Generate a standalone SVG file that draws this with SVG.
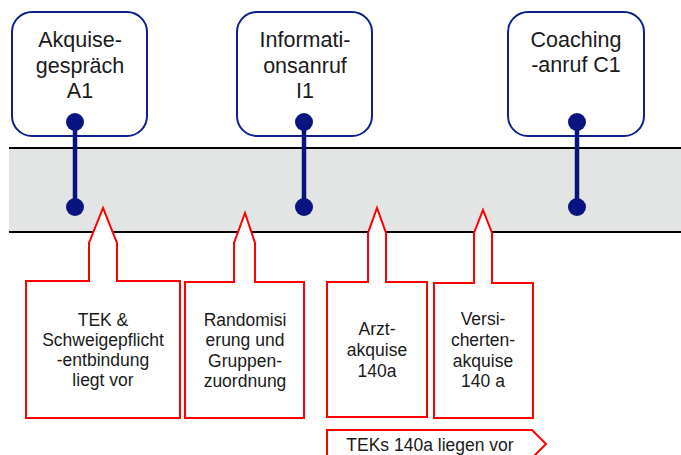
<svg xmlns="http://www.w3.org/2000/svg" width="681" height="455" viewBox="0 0 681 455">
  <style>
    .node { fill: #ffffff; stroke: #0d1f8c; stroke-width: 2; }
    .t { font-family: "Liberation Sans", Arial, sans-serif; fill: #1a1a1a; text-anchor: middle; }
    .big { font-size: 21.5px; }
    .small { font-size: 17.5px; }
    .call { fill: #ffffff; stroke: #ff0000; stroke-width: 2; stroke-linejoin: miter; }
    .stem { stroke: #0a1480; stroke-width: 4.5; }
    .dot { fill: #0a1480; }
  </style>

  <!-- timeline band -->
  <g id="band">
    <rect x="9" y="148" width="672" height="84" fill="#e3e4e4"/>
    <line x1="9" y1="148" x2="681" y2="148" stroke="#000" stroke-width="2"/>
    <line x1="9" y1="232" x2="681" y2="232" stroke="#000" stroke-width="2"/>
  </g>

  <!-- events -->
  <g id="node-a1">
    <rect class="node" x="12" y="12" width="135" height="124" rx="20"/>
    <text class="t big" x="80" y="47">Akquise-</text>
    <text class="t big" x="80" y="73">gespräch</text>
    <text class="t big" x="80" y="98">A1</text>
  </g>
  <g id="node-i1">
    <rect class="node" x="237" y="12" width="135" height="124" rx="20"/>
    <text class="t big" x="305" y="47">Informati-</text>
    <text class="t big" x="305" y="73">onsanruf</text>
    <text class="t big" x="305" y="98">I1</text>
  </g>
  <g id="node-c1">
    <rect class="node" x="508" y="12" width="136" height="124" rx="20"/>
    <text class="t big" x="576" y="47">Coaching</text>
    <text class="t big" x="576" y="72">-anruf C1</text>
  </g>

  <!-- connectors from events to the timeline -->
  <g id="connectors">
    <line class="stem" x1="75" y1="122" x2="75" y2="207"/>
    <circle class="dot" cx="75" cy="122" r="9"/>
    <circle class="dot" cx="75" cy="207" r="9"/>
    <line class="stem" x1="304" y1="122" x2="304" y2="207"/>
    <circle class="dot" cx="304" cy="122" r="9"/>
    <circle class="dot" cx="304" cy="207" r="9"/>
    <line class="stem" x1="577" y1="122" x2="577" y2="207"/>
    <circle class="dot" cx="577" cy="122" r="9"/>
    <circle class="dot" cx="577" cy="207" r="9"/>
  </g>

  <!-- milestone callouts -->
  <g id="callout-tek">
    <path class="call" d="M26,281 H89 V243 L103,208 L117,243 V281 H180 V418 H26 Z"/>
    <text class="t small" x="103" y="326">TEK &amp;</text>
    <text class="t small" x="103" y="346">Schweigepflicht</text>
    <text class="t small" x="103" y="366">-entbindung</text>
    <text class="t small" x="103" y="386">liegt vor</text>
  </g>
  <g id="callout-random">
    <path class="call" d="M185,282 H234 V243 L245,213 L255,243 V282 H304 V418 H185 Z"/>
    <text class="t small" x="245" y="326">Randomisi</text>
    <text class="t small" x="245" y="346">erung und</text>
    <text class="t small" x="245" y="367">Gruppen-</text>
    <text class="t small" x="245" y="387">zuordnung</text>
  </g>
  <g id="callout-arzt">
    <path class="call" d="M327,282 H368 V233 L377,208 L386,233 V282 H427 V417 H327 Z"/>
    <text class="t small" x="377" y="335">Arzt-</text>
    <text class="t small" x="377" y="356">akquise</text>
    <text class="t small" x="377" y="377">140a</text>
  </g>
  <g id="callout-vers">
    <path class="call" d="M434,283 H474 V233 L483,210 L492,233 V283 H533 V418 H434 Z"/>
    <text class="t small" x="483" y="325">Versi-</text>
    <text class="t small" x="483" y="346">cherten-</text>
    <text class="t small" x="483" y="367">akquise</text>
    <text class="t small" x="483" y="387">140 a</text>
  </g>

  <!-- span arrow -->
  <g id="span-teks">
    <path class="call" d="M327,430 H532 L546,444 L532,458 H327 Z"/>
    <text class="t small" x="430" y="451">TEKs 140a liegen vor</text>
  </g>
</svg>
